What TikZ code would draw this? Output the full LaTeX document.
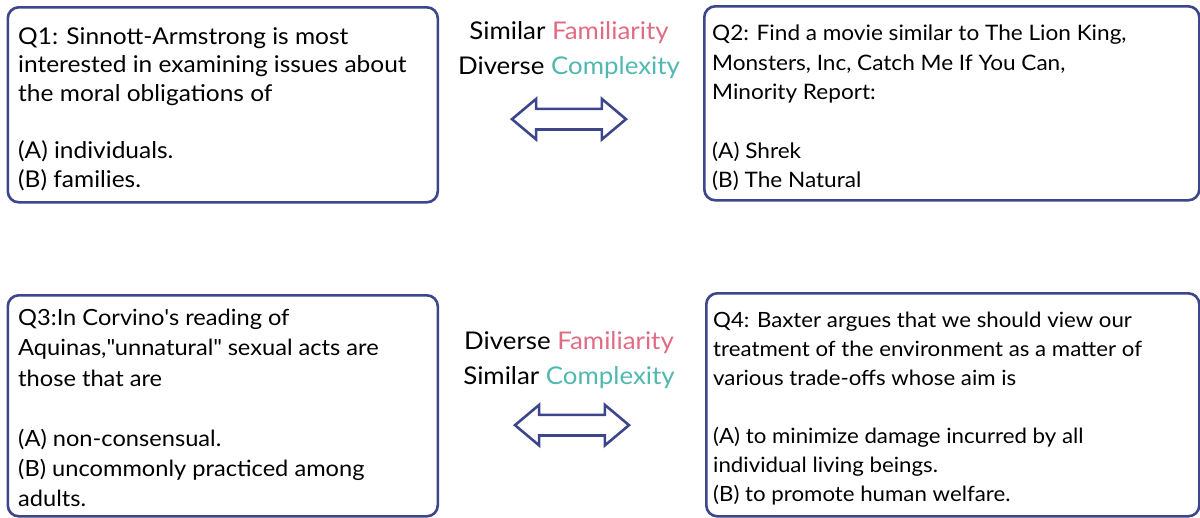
\documentclass[tikz,border=0pt]{standalone}
\usepackage{fontspec}
\setmainfont{Lato}[FakeStretch=1.06]
\usetikzlibrary{positioning, shapes.arrows}
\definecolor{framecol}{HTML}{3D468A}
\definecolor{famcol}{HTML}{E06B85}
\definecolor{cplxcol}{HTML}{4FB8B0}
\newcommand\qsize[2]{\fontsize{#1}{#2}\selectfont}
\tikzset{
    qbox/.style={draw=framecol, fill=white, line width=2.6pt, rounded corners=11pt, anchor=north west, inner sep=0pt},
    qtext/.style={anchor=north west, align=left, inner sep=0pt},
    tag/.style={align=center, inner sep=0pt, anchor=north, font=\qsize{24.4}{35}},
    dblarrow/.style={double arrow, draw=framecol, line width=2.6pt, minimum height=114pt, minimum width=38pt,
        double arrow head extend=10pt, double arrow tip angle=80, inner sep=9pt},
}

\begin{document}
\begin{tikzpicture}[x=1pt, y=-1pt]
    \useasboundingbox (0,0) rectangle (1200,517);
    \clip (0,0) rectangle (1200,517);

    % Question boxes
    \node[qbox, minimum width=430pt, minimum height=195pt] (box1) at (6.5,6) {};
    \node[qbox, minimum width=495pt, minimum height=194pt] (box2) at (703,5) {};
    \node[qbox, minimum width=430pt, minimum height=221pt] (box3) at (6.5,294) {};
    \node[qbox, minimum width=493pt, minimum height=223pt] (box4) at (705,292) {};

    % Question texts
    \node[qtext, font=\qsize{23.1}{28.7}] (q1) at (18,27) {Q1: Sinnott-Armstrong is most\\interested in examining issues about\\the moral obligations of\\[\baselineskip](A) individuals.\\(B) families.};
    \node[qtext, font=\qsize{21.3}{29.4}] (q2) at (712,25) {Q2: Find a movie similar to The Lion King,\\Monsters, Inc, Catch Me If You Can,\\Minority Report:\\[\baselineskip](A) Shrek\\(B) The Natural};
    \node[qtext, font=\qsize{22.3}{30.2}] (q3) at (18,309) {Q3:In Corvino\textquotesingle s reading of\\Aquinas,\textquotedbl unnatural\textquotedbl{} sexual acts are\\those that are\\[\baselineskip](A) non-consensual.\\(B) uncommonly practiced among\\adults.};
    \node[qtext, font=\qsize{21.0}{29}] (q4) at (713,312) {Q4: Baxter argues that we should view our\\treatment of the environment as a matter of\\various trade-offs whose aim is\\[\baselineskip](A) to minimize damage incurred by all\\individual living beings.\\(B) to promote human welfare.};

    % Pair labels
    \node[tag] (tag1) at (569,21) {Similar \textcolor{famcol}{Familiarity}\\Diverse \textcolor{cplxcol}{Complexity}};
    \node[tag] (tag2) at (569,331) {Diverse \textcolor{famcol}{Familiarity}\\Similar \textcolor{cplxcol}{Complexity}};

    % Arrows
    \node[dblarrow, below=29pt of tag1] (arr1) {};
    \node[dblarrow, below=25pt of tag2, xshift=3pt] (arr2) {};

\end{tikzpicture}
\end{document}
